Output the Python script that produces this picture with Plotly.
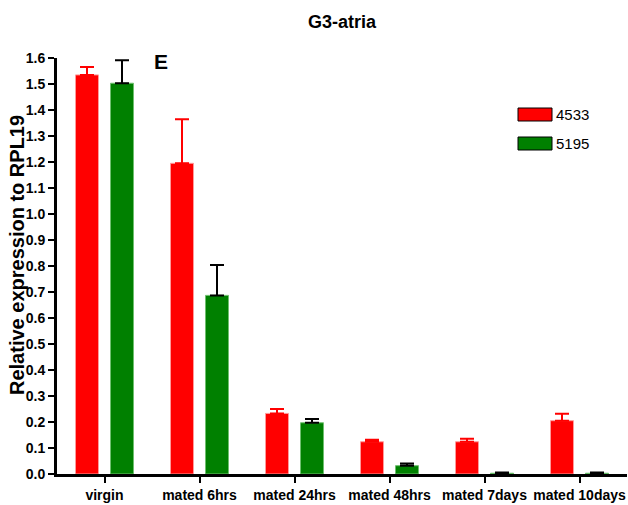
import plotly.graph_objects as go

categories = ["virgin", "mated 6hrs", "mated 24hrs", "mated 48hrs", "mated 7days", "mated 10days"]
s4533 = [1.535, 1.195, 0.233, 0.124, 0.124, 0.205]
s4533_err = [0.030, 0.169, 0.017, 0.008, 0.012, 0.027]
s5195 = [1.503, 0.687, 0.197, 0.032, 0.003, 0.003]
s5195_err = [0.088, 0.117, 0.015, 0.008, 0.003, 0.003]
yticks = [round(i * 0.1, 1) for i in range(17)]
series_names = ["4533", "5195"]
series_colors = ["#ff0000", "#008000"]

FONT = "Liberation Sans, Arial, sans-serif"
L, R, T, B = 57, 1, 58, 31
W, H = 628, 505
PW, PH = W - L - R, H - T - B

def px_x(x):
    return (x - L) / PW

def px_y(y):
    return (H - B - y) / PH

fig = go.Figure()
fig.add_trace(go.Bar(
    x=categories, y=s4533, name=series_names[0],
    marker=dict(color=series_colors[0], line=dict(color="#ff9a9a", width=1)),
    error_y=dict(type="data", array=s4533_err, arrayminus=[0]*6, symmetric=False,
                 color="#ff0000", thickness=2, width=7),
))
fig.add_trace(go.Bar(
    x=categories, y=s5195, name=series_names[1],
    marker=dict(color=series_colors[1], line=dict(color="#6fbf6f", width=1)),
    error_y=dict(type="data", array=s5195_err, arrayminus=[0]*6, symmetric=False,
                 color="#000000", thickness=2, width=7),
))

fig.update_layout(
    width=W, height=H,
    margin=dict(l=L, r=R, t=T, b=B, autoexpand=False),
    paper_bgcolor="white", plot_bgcolor="white",
    barmode="group", bargap=0.263, bargroupgap=0.343,
    title=dict(text="<b>G3-atria</b>", x=0.5, xref="paper", xanchor="center",
               y=1 - 22/H, yanchor="middle",
               font=dict(family=FONT, size=18, color="black")),
    font=dict(family=FONT, color="black"),
    showlegend=False,
)
fig.update_xaxes(
    range=[-0.5, 5.5], showline=True, linecolor="black", linewidth=3,
    ticks="outside", ticklen=6, tickwidth=2, tickcolor="black",
    tickfont=dict(family=FONT, size=14, color="black"),
    showgrid=False, zeroline=False, automargin=False,
    tickvals=categories, ticktext=[f"<b>{c}</b>" for c in categories],
)
fig.update_yaxes(
    range=[0, 1.6], tickvals=yticks, ticktext=[f"<b>{v:.1f}</b>" for v in yticks],
    showline=True, linecolor="black", linewidth=3,
    ticks="outside", ticklen=6, tickwidth=2, tickcolor="black",
    tickfont=dict(family=FONT, size=14, color="black"),
    showgrid=False, zeroline=False, automargin=False,
)

# y-axis title
fig.add_annotation(text="<b>Relative expression to RPL19</b>", textangle=-90,
                   x=px_x(17), y=px_y(255), xref="paper", yref="paper",
                   xanchor="center", yanchor="middle",
                   showarrow=False, font=dict(family=FONT, size=20, color="black"))

# panel letter
fig.add_annotation(text="<b>E</b>", x=px_x(161), y=px_y(62), xref="paper", yref="paper",
                   xanchor="center", yanchor="middle",
                   showarrow=False, font=dict(family=FONT, size=21, color="black"))

# legend
leg_rows = [114.5, 143.5]
for name, color, yc in zip(series_names, series_colors, leg_rows):
    fig.add_shape(type="rect", xref="paper", yref="paper",
                  x0=px_x(518), x1=px_x(552), y0=px_y(yc + 6.5), y1=px_y(yc - 6.5),
                  fillcolor=color, line=dict(color="black", width=1))
    fig.add_annotation(text=name, x=px_x(554), y=px_y(yc), xref="paper", yref="paper",
                       xanchor="left", yanchor="middle", showarrow=False,
                       font=dict(family=FONT, size=15, color="black"))

fig.write_html("out.html", config={"displayModeBar": False},
               post_script="document.body.style.margin='0';")
